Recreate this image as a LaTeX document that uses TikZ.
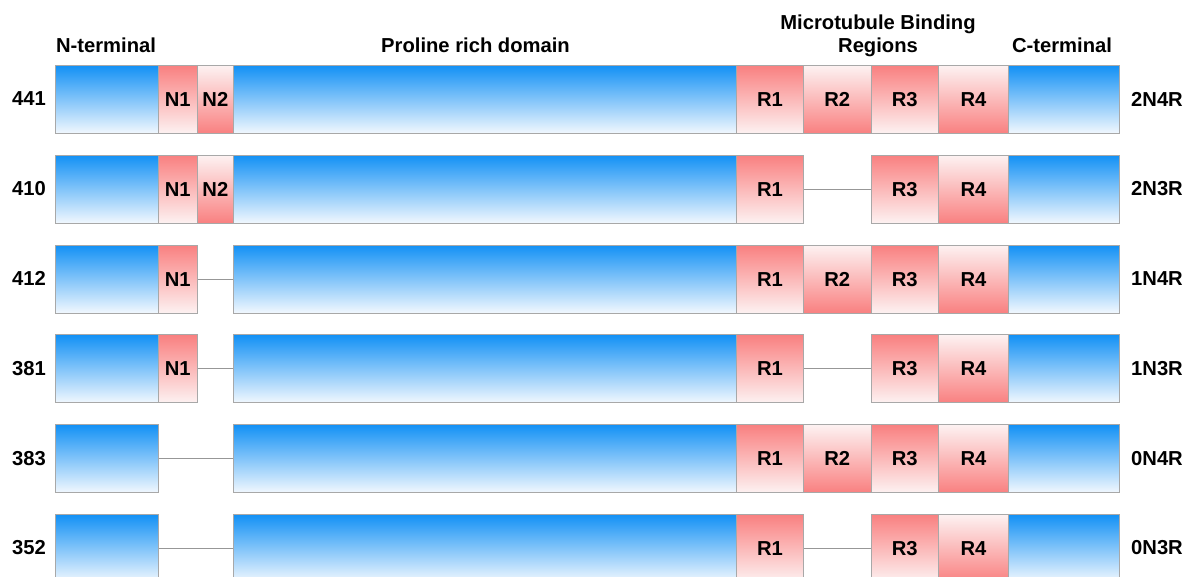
\documentclass[tikz,border=0pt]{standalone}
\usepackage{fontspec}
\setmainfont{Liberation Sans}
\definecolor{bTop}{HTML}{1391F5}
\definecolor{bBot}{HTML}{F2F8FE}
\definecolor{rTop}{HTML}{F98080}
\definecolor{rBot}{HTML}{FDF2F2}
\definecolor{edge}{HTML}{A8A8A8}
\begin{document}
\begin{tikzpicture}[x=1pt,y=-1pt,
  seg/.style={draw=edge, line width=1pt, inner sep=0pt, minimum height=68pt, anchor=north west,
     font=\fontsize{20.2}{22}\selectfont\bfseries},
  bl/.style={seg, top color=bTop, bottom color=bBot},
  rd/.style={seg, top color=rTop, bottom color=rBot},
  ru/.style={seg, top color=rBot, bottom color=rTop},
  lbl/.style={font=\fontsize{20.2}{23}\selectfont\bfseries, inner sep=0pt, align=center},
  gap/.style={draw=edge!90!black, line width=1pt}]
\useasboundingbox (0,0) rectangle (1188,577);
\clip (0,0) rectangle (1188,577);
% headers
\node[lbl] (hN) at (106,45) {N-terminal};
\node[lbl] (hP) at (475.5,45) {Proline rich domain};
\node[lbl] (hM) at (878,35.5) {Microtubule Binding\\Regions};
\node[lbl] (hC) at (1062,45) {C-terminal};
% row 1: 441
\node[bl, minimum width=103pt] (a1) at (55,65) {};
\node[rd, minimum width=38.5pt] (n1a) at (158,65) {N1};
\node[ru, minimum width=36.8pt] (n2a) at (196.5,65) {N2};
\node[bl, minimum width=502.7pt] (pa) at (233.3,65) {};
\node[rd, minimum width=67pt] (r1a) at (736,65) {R1};
\node[ru, minimum width=67.5pt] (r2a) at (803,65) {R2};
\node[rd, minimum width=67.5pt] (r3a) at (870.5,65) {R3};
\node[ru, minimum width=70pt] (r4a) at (938,65) {R4};
\node[bl, minimum width=111pt] (ca) at (1008,65) {};
\node[lbl] (la) at (29,99) {441};
\node[lbl] (ta) at (1157,99) {2N4R};
% row 2: 410
\node[bl, minimum width=103pt] (a2) at (55,154.8) {};
\node[rd, minimum width=38.5pt] (n1b) at (158,154.8) {N1};
\node[ru, minimum width=36.8pt] (n2b) at (196.5,154.8) {N2};
\node[bl, minimum width=502.7pt] (pb) at (233.3,154.8) {};
\node[rd, minimum width=67pt] (r1b) at (736,154.8) {R1};
\node[rd, minimum width=67.5pt] (r3b) at (870.5,154.8) {R3};
\node[ru, minimum width=70pt] (r4b) at (938,154.8) {R4};
\node[bl, minimum width=111pt] (cb) at (1008,154.8) {};
\draw[gap] (r1b.east) -- (r3b.west);
\node[lbl] (lb) at (29,188.8) {410};
\node[lbl] (tb) at (1157,188.8) {2N3R};
% row 3: 412
\node[bl, minimum width=103pt] (a3) at (55,244.6) {};
\node[rd, minimum width=38.5pt] (n1c) at (158,244.6) {N1};
\node[bl, minimum width=502.7pt] (pc) at (233.3,244.6) {};
\node[rd, minimum width=67pt] (r1c) at (736,244.6) {R1};
\node[ru, minimum width=67.5pt] (r2c) at (803,244.6) {R2};
\node[rd, minimum width=67.5pt] (r3c) at (870.5,244.6) {R3};
\node[ru, minimum width=70pt] (r4c) at (938,244.6) {R4};
\node[bl, minimum width=111pt] (cc) at (1008,244.6) {};
\draw[gap] (n1c.east) -- (pc.west);
\node[lbl] (lc) at (29,278.6) {412};
\node[lbl] (tc) at (1157,278.6) {1N4R};
% row 4: 381
\node[bl, minimum width=103pt] (a4) at (55,334.4) {};
\node[rd, minimum width=38.5pt] (n1d) at (158,334.4) {N1};
\node[bl, minimum width=502.7pt] (pd) at (233.3,334.4) {};
\node[rd, minimum width=67pt] (r1d) at (736,334.4) {R1};
\node[rd, minimum width=67.5pt] (r3d) at (870.5,334.4) {R3};
\node[ru, minimum width=70pt] (r4d) at (938,334.4) {R4};
\node[bl, minimum width=111pt] (cd) at (1008,334.4) {};
\draw[gap] (n1d.east) -- (pd.west);
\draw[gap] (r1d.east) -- (r3d.west);
\node[lbl] (ld) at (29,368.4) {381};
\node[lbl] (td) at (1157,368.4) {1N3R};
% row 5: 383
\node[bl, minimum width=103pt] (a5) at (55,424.2) {};
\node[bl, minimum width=502.7pt] (pe) at (233.3,424.2) {};
\node[rd, minimum width=67pt] (r1e) at (736,424.2) {R1};
\node[ru, minimum width=67.5pt] (r2e) at (803,424.2) {R2};
\node[rd, minimum width=67.5pt] (r3e) at (870.5,424.2) {R3};
\node[ru, minimum width=70pt] (r4e) at (938,424.2) {R4};
\node[bl, minimum width=111pt] (ce) at (1008,424.2) {};
\draw[gap] (a5.east) -- (pe.west);
\node[lbl] (le) at (29,458.2) {383};
\node[lbl] (te) at (1157,458.2) {0N4R};
% row 6: 352
\node[bl, minimum width=103pt] (a6) at (55,514) {};
\node[bl, minimum width=502.7pt] (pf) at (233.3,514) {};
\node[rd, minimum width=67pt] (r1f) at (736,514) {R1};
\node[rd, minimum width=67.5pt] (r3f) at (870.5,514) {R3};
\node[ru, minimum width=70pt] (r4f) at (938,514) {R4};
\node[bl, minimum width=111pt] (cf) at (1008,514) {};
\draw[gap] (a6.east) -- (pf.west);
\draw[gap] (r1f.east) -- (r3f.west);
\node[lbl] (lf) at (29,548) {352};
\node[lbl] (tf) at (1157,548) {0N3R};
\end{tikzpicture}
\end{document}
